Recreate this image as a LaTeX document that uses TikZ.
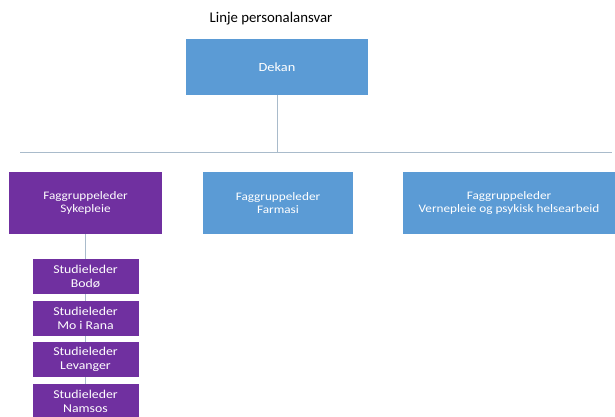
\documentclass[tikz,border=0pt]{standalone}
\usepackage{fontspec}
\setmainfont{Carlito}[FakeStretch=1.15]
\newfontfamily\titlefont{Carlito}
\definecolor{bluebox}{HTML}{5B9BD5}
\definecolor{purplebox}{HTML}{7030A0}
\definecolor{linkline}{HTML}{A9BBCB}
\begin{document}
\begin{tikzpicture}[x=1pt,y=-1pt,
  orgbox/.style={rectangle, inner sep=0pt, text=white, align=center,
    font=\fontsize{11.5}{13.5}\selectfont},
  bluenode/.style={orgbox, fill=bluebox},
  purplenode/.style={orgbox, fill=purplebox},
  studnode/.style={purplenode, minimum width=106pt, minimum height=35pt,
    font=\fontsize{12}{14.5}\selectfont},
  link/.style={draw=linkline, line width=0.8pt}]
\clip (0,0) rectangle (615,417);
\fill[white] (0,0) rectangle (615,417);

\node[font=\titlefont\fontsize{14.8}{16}\selectfont] (title) at (271,19) {Linje personalansvar};

\node[bluenode, minimum width=182pt, minimum height=56pt,
  font=\fontsize{12.5}{15}\selectfont] (dekan) at (277,67) {Dekan};

\coordinate (hl) at (20,152);
\coordinate (hr) at (612,152);
\coordinate (hm) at (dekan.south |- hl);

\node[purplenode, minimum width=153pt, minimum height=62pt] (fsyk) at (85.5,203) {Faggruppeleder\\Sykepleie};
\node[bluenode, minimum width=150pt, minimum height=62pt] (ffar) at (278,203) {Faggruppeleder\\Farmasi};
\node[bluenode, minimum width=212pt, minimum height=62pt] (fver) at (509,203) {Faggruppeleder\\Vernepleie og psykisk helsearbeid};

\coordinate (vbot) at (85.5,417);

\draw[link] (dekan.south) -- (hm);
\draw[link] (hl) -- (hr);
\draw[link] (fsyk.south) -- (vbot);

\node[studnode] (s1) at (85.5,276.5) {Studieleder\\Bodø};
\node[studnode] (s2) at (85.5,318.5) {Studieleder\\Mo i Rana};
\node[studnode] (s3) at (85.5,359.5) {Studieleder\\Levanger};
\node[studnode] (s4) at (85.5,401.5) {Studieleder\\Namsos};
\end{tikzpicture}
\end{document}
